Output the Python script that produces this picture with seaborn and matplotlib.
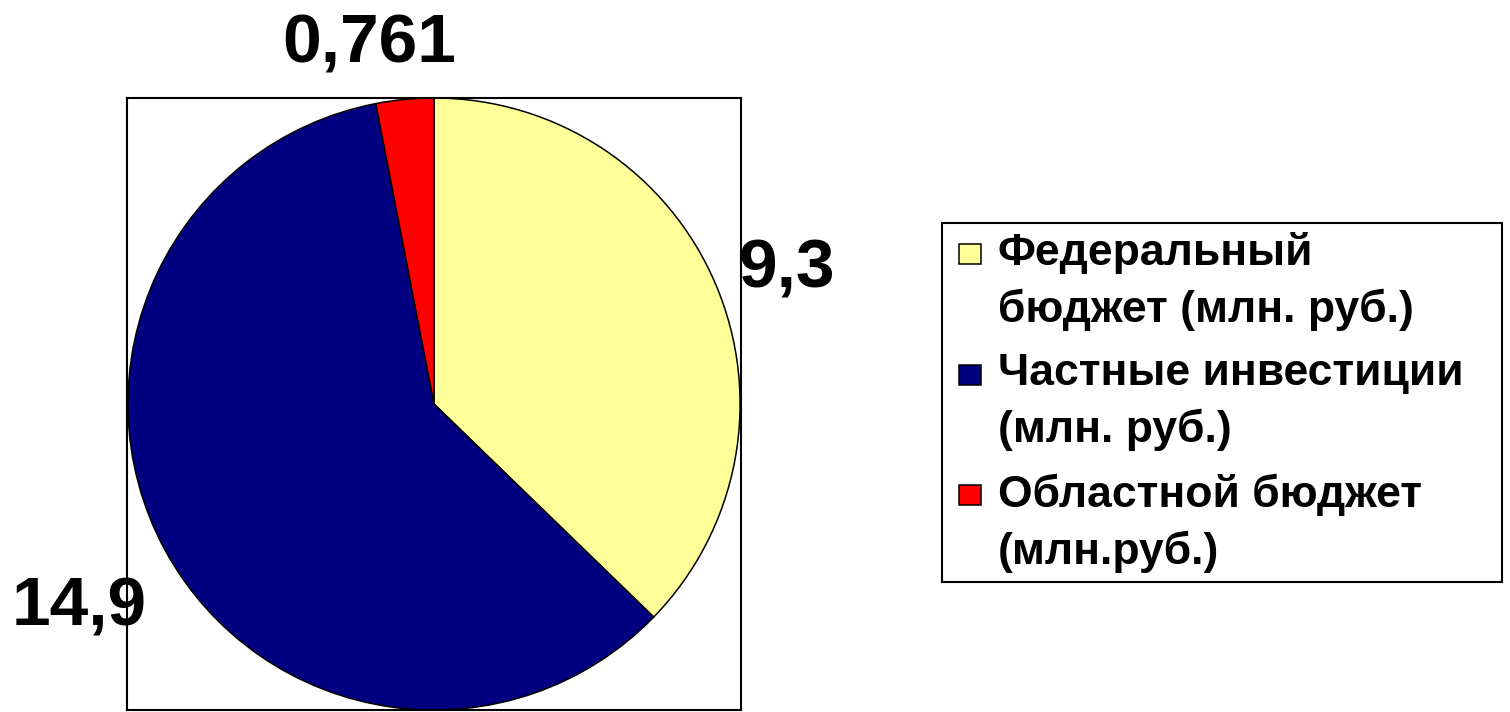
import matplotlib
matplotlib.use("Agg")
import numpy as np
import matplotlib.pyplot as plt
import seaborn as sns
from matplotlib.legend_handler import HandlerPatch
from matplotlib.patches import Rectangle, Wedge

# Данные
categories = ["Федеральный\nбюджет (млн. руб.)",
              "Частные инвестиции\n(млн. руб.)",
              "Областной бюджет\n(млн.руб.)"]
values = [9.3, 14.9, 0.761]
colors = ["#FFFF99", "#000080", "#FF0000"]
# положение подписей: расстояние от центра и сдвиг угла (град.)
label_dist = [1.243, 1.325, 1.215]
label_shift = [-1.1, 0.5, 4.5]

sns.set_style("white")
plt.rcParams['font.family'] = ['Liberation Sans', 'DejaVu Sans']
plt.rcParams['text.color'] = 'black'

fig = plt.figure(figsize=(15.1, 7.12), dpi=100)
ax = fig.add_axes([127 / 1510, 2 / 712, 614 / 1510, 612 / 712])

wedges, _ = ax.pie(values, colors=colors, startangle=90, counterclock=False,
                   radius=1, frame=True,
                   wedgeprops=dict(edgecolor='black', linewidth=1.1))
ax.set_aspect('auto')
ax.set_xlim(-1.003, 1.003)
ax.set_ylim(-1.0, 1.0)
ax.set_xticks([])
ax.set_yticks([])
for s in ax.spines.values():
    s.set_visible(True)
    s.set_color('black')
    s.set_linewidth(1.5)

# подписи значений
for w, v, d, sh in zip(wedges, values, label_dist, label_shift):
    ang = np.deg2rad((w.theta1 + w.theta2) / 2 + sh)
    ax.text(d * np.cos(ang), d * np.sin(ang), f"{v:g}".replace('.', ','),
            ha='center', va='center_baseline', fontsize=50, fontweight='bold',
            color='black')


# квадратный маркер на уровне первой строки
def small_square(legend, orig_handle, xdescent, ydescent, width, height, fontsize):
    return Rectangle((-xdescent + 0.18 * fontsize, -0.02 * fontsize),
                     0.5 * fontsize, 0.45 * fontsize)


leg = fig.legend(wedges, categories, loc='upper left', mode='expand',
                 bbox_to_anchor=(942 / 1510, 1 - 578 / 712, 560 / 1510, 355 / 712),
                 borderaxespad=0,
                 frameon=True, fancybox=False, edgecolor='black', framealpha=1,
                 borderpad=0.2, handlelength=0.75, handleheight=0.7,
                 handletextpad=0.3, labelspacing=0.5,
                 prop=dict(size=32, weight='bold'),
                 handler_map={Wedge: HandlerPatch(patch_func=small_square)})
leg.get_frame().set_linewidth(1.5)
for t in leg.get_texts():
    t.set_linespacing(1.44)
    t.set_color('black')
for col in leg._legend_handle_box.get_children():
    for item in col.get_children():
        item.align = "top"

fig.savefig("out.png", dpi=100)
